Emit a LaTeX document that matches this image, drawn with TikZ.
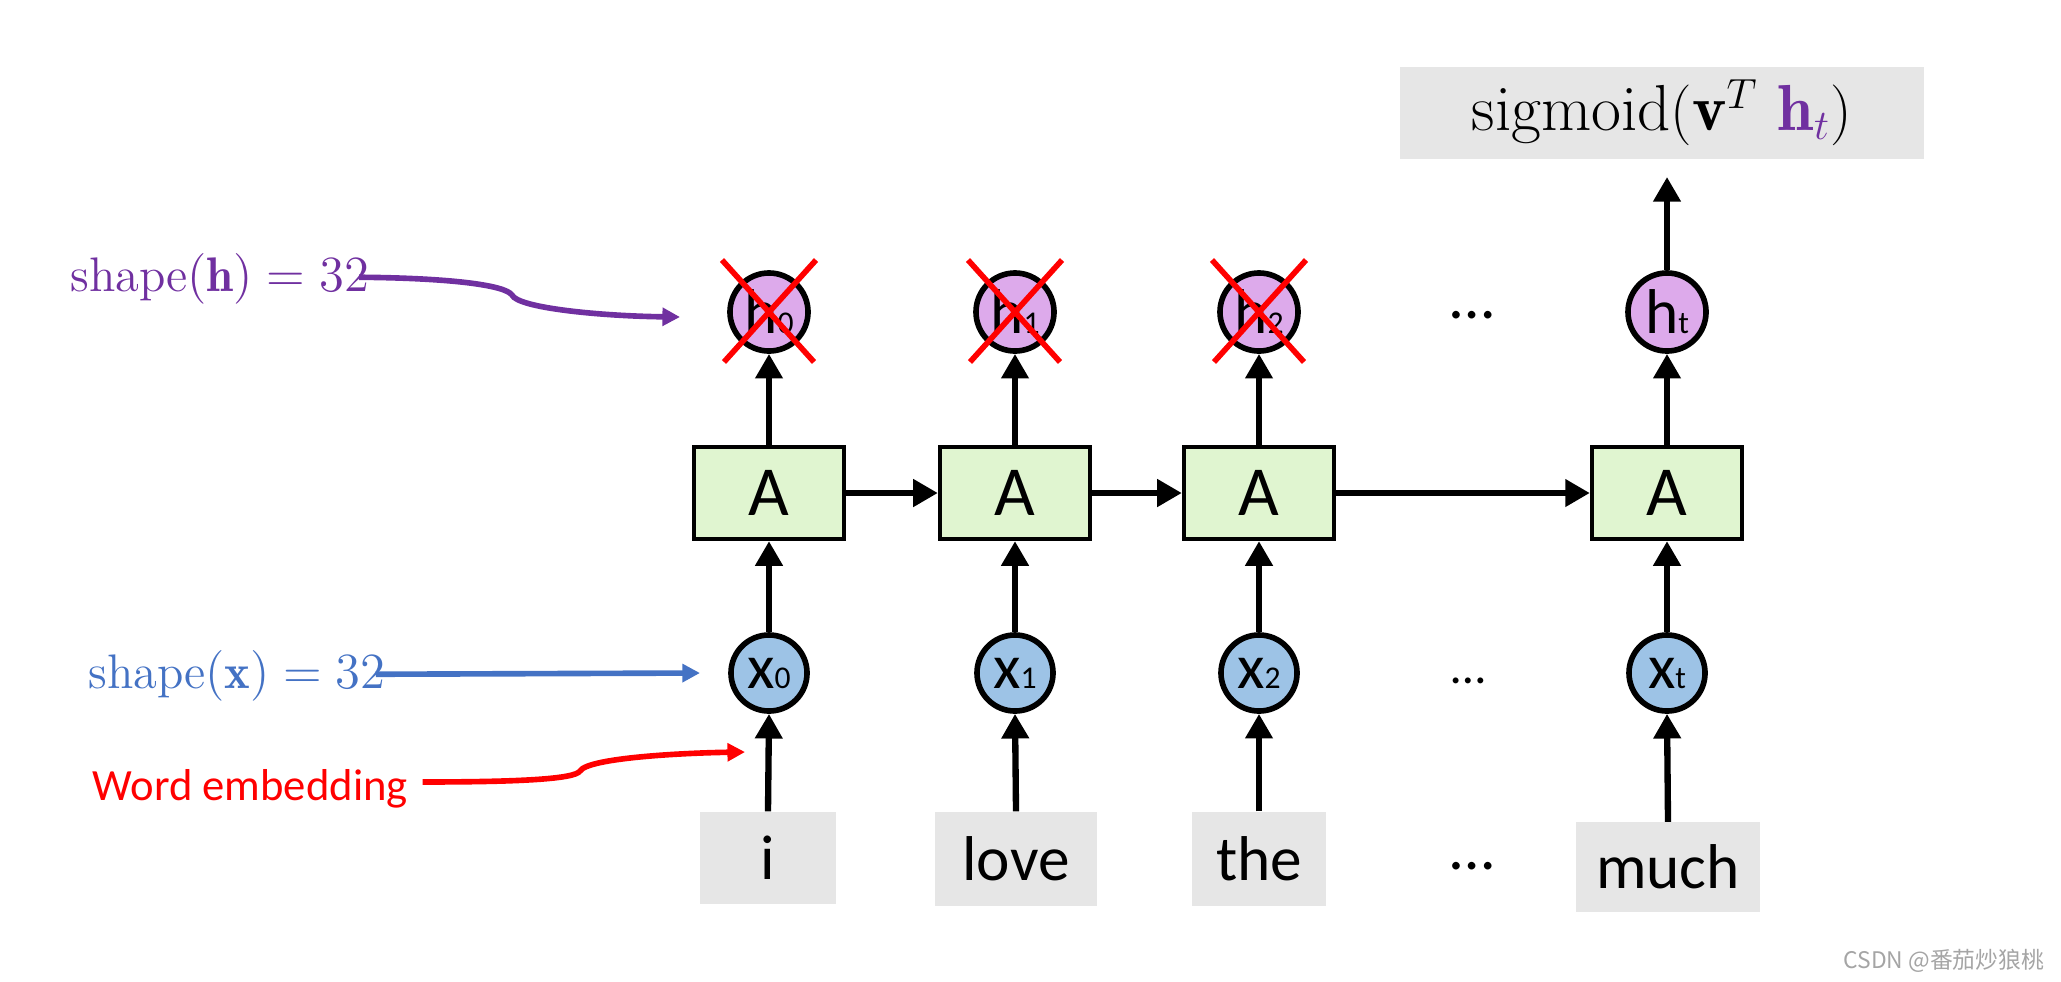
\documentclass[tikz,border=0pt]{standalone}
\usepackage{fontspec}
\usepackage{amsmath}
\usetikzlibrary{arrows.meta}
\newfontfamily\calib{Carlito}
\newfontfamily\cjkfont{Noto Sans CJK SC}
\definecolor{hpurple}{RGB}{221,170,235}
\definecolor{xblue}{RGB}{157,195,230}
\definecolor{agreen}{RGB}{224,245,208}
\definecolor{wgray}{RGB}{230,230,230}
\definecolor{ptext}{RGB}{112,48,160}
\definecolor{btext}{RGB}{68,114,196}
\definecolor{wmark}{RGB}{165,165,165}
\tikzset{
  hcirc/.style={circle,draw,line width=1.6pt,fill=hpurple,inner sep=0pt,minimum size=0.78cm,font=\calib\fontsize{18}{18}\selectfont},
  xcirc/.style={circle,draw,line width=1.6pt,fill=xblue,inner sep=0pt,minimum size=0.76cm,font=\calib\fontsize{18}{18}\selectfont},
  abox/.style={rectangle,draw,line width=1.2pt,fill=agreen,minimum width=1.5cm,minimum height=0.92cm,inner sep=0pt,font=\calib\fontsize{20}{20}\selectfont},
  wbox/.style={rectangle,fill=wgray,inner sep=0pt,font=\calib\fontsize{18}{18}\selectfont},
  arr/.style={line width=1.8pt,-{Triangle[length=7pt,width=7.5pt]}},
  cross/.style={red,line width=1.6pt},
  dotsnode/.style={inner sep=0pt,font=\calib\fontsize{18}{18}\selectfont},
}
\newcommand{\sub}[1]{{\fontsize{9}{9}\selectfont #1}}
\begin{document}
\begin{tikzpicture}[x=0.01cm,y=-0.01cm]
\useasboundingbox (0,0) rectangle (2061,981);
% A boxes
\node[abox] (a0) at (769,493) {A};
\node[abox] (a1) at (1015,493) {A};
\node[abox] (a2) at (1259,493) {A};
\node[abox] (a3) at (1667,493) {A};
% h circles
\node[hcirc] (h0) at (769,312) {h\sub{0}};
\node[hcirc] (h1) at (1015,312) {h\sub{1}};
\node[hcirc] (h2) at (1259,312) {h\sub{2}};
\node[hcirc] (h3) at (1667,312) {h\sub{t}};
% x circles
\node[xcirc] (x0) at (769,673) {x\sub{0}};
\node[xcirc] (x1) at (1015,673) {x\sub{1}};
\node[xcirc] (x2) at (1259,673) {x\sub{2}};
\node[xcirc] (x3) at (1667,673) {x\sub{t}};
% word boxes
\node[wbox,minimum width=1.35cm,minimum height=0.92cm] (w0) at (768,858) {i};
\node[wbox,minimum width=1.62cm,minimum height=0.94cm] (w1) at (1016,859) {love};
\node[wbox,minimum width=1.34cm,minimum height=0.94cm] (w2) at (1259,859) {the};
\node[wbox,minimum width=1.84cm,minimum height=0.89cm] (w3) at (1668,867) {much};
% dots
\node[dotsnode] (d1) at (1472,315) {…};
\node[dotsnode,font=\calib\fontsize{14}{14}\selectfont] (d2) at (1468,681) {…};
\node[dotsnode] (d3) at (1472,866) {…};
% sigmoid box
\node[rectangle,fill=wgray,minimum width=5.23cm,minimum height=0.91cm,inner sep=0pt] (sig) at (1662,113) {\fontsize{18.5}{18.5}\selectfont$\mathrm{sigmoid}(\mathbf{v}^{T}\ \textcolor{ptext}{\mathbf{h}_{t}})$};
\coordinate (sigtip) at (1667,177);
% vertical arrows
\foreach \i in {0,1,2,3}{
  \draw[arr] (w\i.north) -- (x\i.south);
  \draw[arr] (x\i.north) -- (a\i.south);
  \draw[arr] (a\i.north) -- (h\i.south);
}
\draw[arr] (h3.north) -- (sigtip);
% horizontal arrows
\draw[arr] (a0.east) -- (a1.west);
\draw[arr] (a1.east) -- (a2.west);
\draw[arr] (a2.east) -- (a3.west);
% crosses
\foreach \i in {0,1,2}{
  \draw[cross] ([shift={(-47,-52)}]h\i.center) -- ([shift={(45,50)}]h\i.center);
  \draw[cross] ([shift={(47,-52)}]h\i.center) -- ([shift={(-45,50)}]h\i.center);
}
% labels
\node[anchor=west,inner sep=0pt,text=ptext,font=\fontsize{13.8}{13.8}\selectfont] (lh) at (70,279) {$\mathrm{shape}(\mathbf{h}) = 32$};
\node[anchor=west,inner sep=0pt,text=btext,font=\fontsize{13.8}{13.8}\selectfont] (lx) at (88,676) {$\mathrm{shape}(\mathbf{x}) = 32$};
\node[anchor=west,inner sep=0pt,text=red,font=\calib\fontsize{12.7}{12.7}\selectfont] (lw) at (92,789) {Word embedding};
\coordinate (hend) at (680,317);
\coordinate (xend) at (700,673);
\coordinate (wend) at (745,752);
\draw[ptext,line width=1.6pt,-{Triangle[length=5pt,width=5pt]}] ([xshift=-3pt,yshift=0.5pt]lh.east) .. controls (450,278) and (505,285) .. (512,295) .. controls (518,308) and (600,316) .. (hend);
\draw[btext,line width=1.6pt,-{Triangle[length=5pt,width=5pt]}] ([xshift=-3pt,yshift=0.5pt]lx.east) -- (xend);
\draw[red,line width=1.6pt,-{Triangle[length=5pt,width=5pt]}] ([xshift=4pt,yshift=2pt]lw.east) .. controls (520,782) and (575,779) .. (580,771) .. controls (588,758) and (680,753) .. (wend);
% watermark
\node[anchor=east,inner sep=0pt,text=wmark,font=\cjkfont\fontsize{6.5}{6.5}\selectfont] (wm) at (2045,961) {CSDN @番茄炒狼桃};
\end{tikzpicture}
\end{document}
